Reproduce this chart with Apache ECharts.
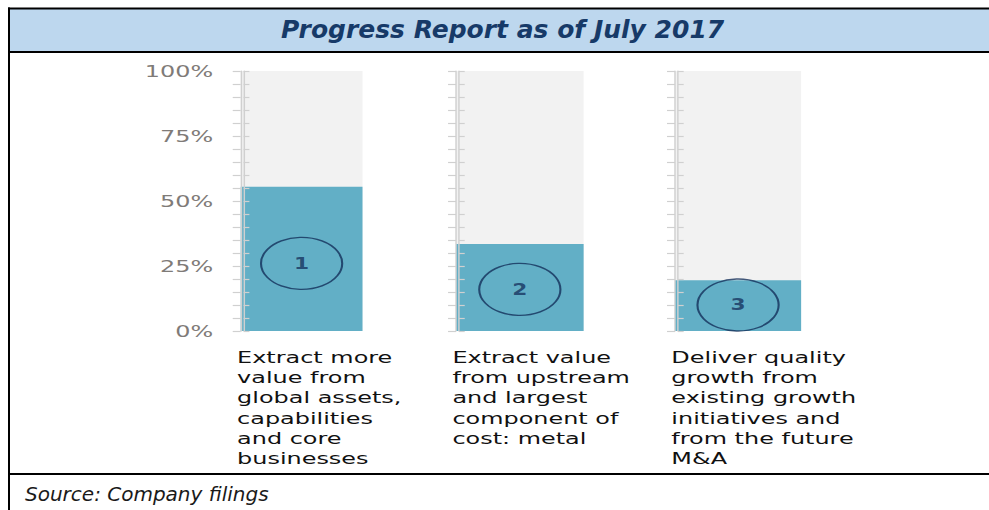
<!DOCTYPE html>
<html>
<head>
<meta charset="utf-8">
<script src="https://cdn.jsdelivr.net/npm/echarts@6/dist/echarts.min.js"></script>
<style>
  html, body { margin: 0; padding: 0; background: #fff; }
  #wrap { position: relative; width: 989px; height: 510px; overflow: hidden; }
  #frame { position: absolute; left: 0; top: 0; width: 989px; height: 510px; }
  /* the gauges in the source picture are stretched sideways */
  #gauges { position: absolute; left: 0; top: 0; width: 682px; height: 510px;
            transform: scaleX(1.45); transform-origin: 0 0; }
</style>
</head>
<body>
<div id="wrap">
  <div id="frame"></div>
  <div id="gauges"></div>
</div>
<script>
const titleText = 'Progress Report as of July 2017'
const sourceText = 'Source: Company filings'

const categories = [
  'Extract more\nvalue from\nglobal assets,\ncapabilities\nand core\nbusinesses',
  'Extract value\nfrom upstream\nand largest\ncomponent of\ncost: metal',
  'Deliver quality\ngrowth from\nexisting growth\ninitiatives and\nfrom the future\nM&A'
]
const progress = [55.5, 33.5, 19.5]      // % complete
const badgeNumbers = ['1', '2', '3']
const badgeLevel = [26, 16, 10]          // % level where the numbered circle sits

// layout (unscaled px inside #gauges)
const gridLefts = [166, 314.5, 465.5]
const gridWidths = [84, 88, 87]

const font = 'DejaVu Sans'

// ---- frame: borders, title band, source ----
const frame = echarts.init(document.getElementById('frame'), null, { renderer: 'svg' })
frame.setOption({
  backgroundColor: '#fff',
  animation: false,
  title: [
    {
      text: titleText,
      left: 281,
      top: 17,
      padding: 0,
      z: 10,
      textStyle: { fontFamily: font, fontStyle: 'italic', fontWeight: 'bold', fontSize: 25, color: '#173a68' }
    },
    {
      text: sourceText,
      left: 25,
      top: 484,
      padding: 0,
      z: 10,
      textStyle: { fontFamily: font, fontStyle: 'italic', fontWeight: 'normal', fontSize: 20, color: '#1a1a1a' }
    }
  ],
  graphic: [
    { type: 'rect', z: 1, shape: { x: 9, y: 9, width: 980, height: 42 }, style: { fill: '#bdd7ee' } },
    { type: 'line', z: 2, shape: { x1: 8, y1: 8.5, x2: 989, y2: 8.5 }, style: { stroke: '#000', lineWidth: 2 } },
    { type: 'line', z: 2, shape: { x1: 9, y1: 52, x2: 989, y2: 52 }, style: { stroke: '#000', lineWidth: 2 } },
    { type: 'line', z: 2, shape: { x1: 9, y1: 474, x2: 989, y2: 474 }, style: { stroke: '#000', lineWidth: 2 } },
    { type: 'line', z: 2, shape: { x1: 9, y1: 7.5, x2: 9, y2: 510 }, style: { stroke: '#000', lineWidth: 2 } }
  ]
})

// ---- gauges ----
const tickColor = '#d0d0d0'
const grids = []
const xAxes = []
const yAxes = []
const series = []

categories.forEach((cat, i) => {
  grids.push({ left: gridLefts[i], width: gridWidths[i], top: 71, height: 260, outerBoundsMode: 'none' })
  xAxes.push({
    type: 'category',
    gridIndex: i,
    data: [cat],
    axisLine: { show: false },
    axisTick: { show: false },
    axisLabel: { show: false },
    splitLine: { show: false }
  })
  // outer ticks (with labels on the first gauge)
  yAxes.push({
    type: 'value',
    gridIndex: i,
    position: 'left',
    min: 0,
    max: 100,
    interval: 25,
    z: 5,
    axisLine: { show: true, lineStyle: { color: tickColor, width: 1 } },
    axisTick: { show: true, length: 5.5, lineStyle: { color: tickColor, width: 1.2 } },
    minorTick: { show: true, splitNumber: 5, length: 5.5, lineStyle: { color: tickColor, width: 1.2 } },
    splitLine: { show: false },
    axisLabel: {
      show: i === 0,
      formatter: '{value}%',
      margin: 19,
      color: '#7f7b78',
      fontFamily: font,
      fontSize: 16.5
    }
  })
  // inner ticks, drawn over the bar
  yAxes.push({
    type: 'value',
    gridIndex: i,
    position: 'left',
    offset: -2,
    min: 0,
    max: 100,
    interval: 25,
    z: 5,
    axisLine: { show: true, lineStyle: { color: tickColor, width: 1 } },
    axisTick: { show: true, inside: true, length: 4, lineStyle: { color: tickColor, width: 1.2 } },
    minorTick: { show: true, splitNumber: 5, length: 4, lineStyle: { color: tickColor, width: 1.2 } },
    splitLine: { show: false },
    axisLabel: { show: false }
  })
  series.push({
    type: 'bar',
    xAxisIndex: i,
    yAxisIndex: i * 2,
    data: [progress[i]],
    barWidth: '100%',
    showBackground: true,
    backgroundStyle: { color: '#f2f2f2' },
    itemStyle: { color: '#62afc6' },
    label: {
      show: true,
      position: [0, '100%'],
      align: 'left',
      verticalAlign: 'top',
      offset: [-2.5, 16],
      formatter: '{b}',
      fontFamily: font,
      fontSize: 16.5,
      lineHeight: 20.3,
      color: '#111'
    }
  })
  series.push({
    type: 'scatter',
    xAxisIndex: i,
    yAxisIndex: i * 2,
    z: 6,
    data: [[0, badgeLevel[i]]],
    symbol: 'circle',
    symbolSize: [56, 52],
    itemStyle: { color: 'rgba(0,0,0,0)', borderColor: '#14305a', borderWidth: 1.4 },
    label: {
      show: true,
      position: 'inside',
      formatter: badgeNumbers[i],
      fontFamily: font,
      fontWeight: 'bold',
      fontSize: 15,
      color: '#17345f'
    }
  })
})

const chart = echarts.init(document.getElementById('gauges'), null, { renderer: 'svg' })
chart.setOption({
  backgroundColor: 'transparent',
  animation: false,
  grid: grids,
  xAxis: xAxes,
  yAxis: yAxes,
  series: series
})
</script>
</body>
</html>
